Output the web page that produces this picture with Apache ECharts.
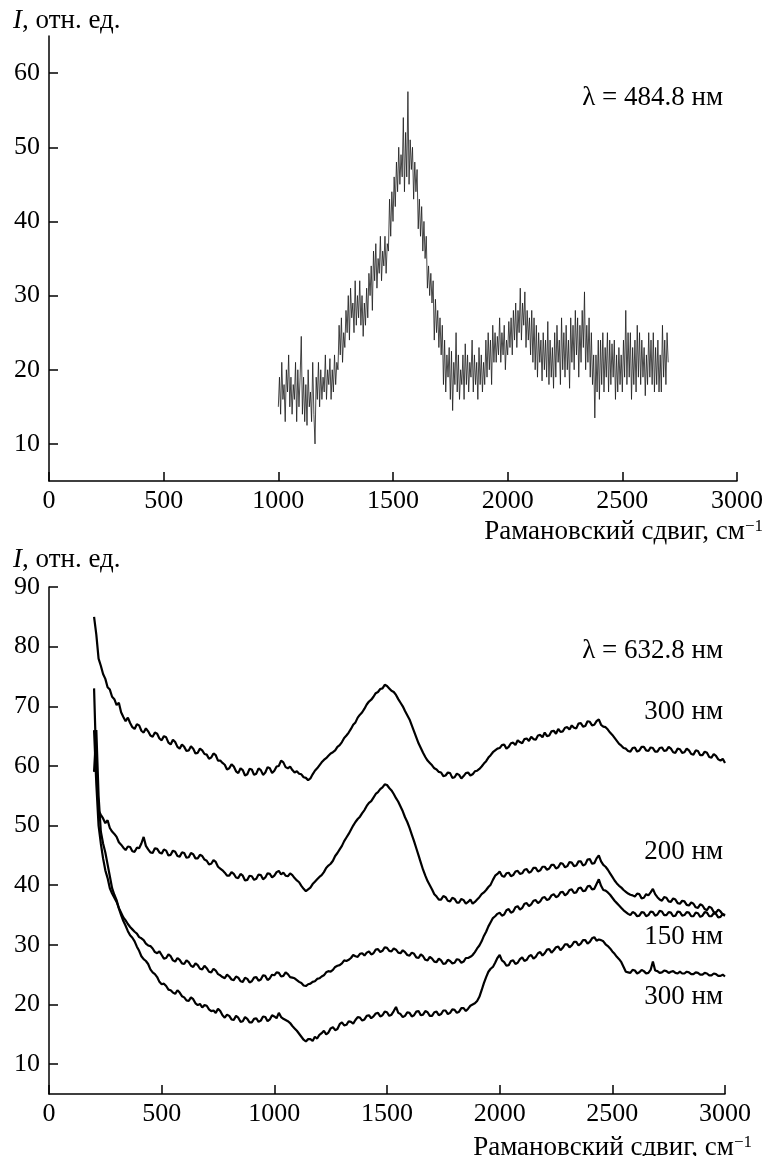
<!DOCTYPE html>
<html>
<head>
<meta charset="utf-8">
<script src="https://cdn.jsdelivr.net/npm/echarts@6/dist/echarts.min.js"></script>
<style>
html,body{margin:0;padding:0;background:#fff;}
#c{width:766px;height:1156px;}
</style>
</head>
<body>
<div id="c"></div>
<script>
// ---------- DATA ----------
// Top panel (λ = 484.8 нм): sampled every 5 cm^-1 from 1000 to 2700
const topStart = 1000;
const topStep = 5;
const topValues = [
  15,19,14,21,16,18,13,20,17,22, 15,19,14,18,16,21,13,20,15,19,
  24.5,14,19,13,18,12.5,20,15,17,13, 21,14,10,19,16,21,15,20,16,19,
  17,22,16,20,18,21.5,16,20,17,22, 18,21,20,26,22,27,21,25,23,28,
  25,30,24,31,27,29,25,32,26,30, 27,32,26,30,24.5,29,26,31,27,33,
  30,34,28,36,32,37,31,35,33,38, 32,36,34,38,33,37,36,43,38,44,
  40,46,42,48,44,50,45,49,46,54, 44,52,46,57.5,45,51,47,50,43,48,
  44,47,39,43,38,42,36,40,35,38, 31,34,30,33,29,32,24,29.5,25,28,
  23,27,22,26,18,24,17,22,19,23, 16,22.5,14.5,21,18,25,17,22,16,20,
  18,22,16,23.5,18,22,17,21,19,24, 17,22,18,21,16,23,18,22,17,21,
  18,24,19,25,20,24,18,26,21,25, 21,24.5,22,27,21,25,22,26,20,24,
  22,26.5,23,27,22,28,24,29,23,28, 25,31,24,29,26,30.5,23,28,24,27,
  22,28,21,27,20,26,19,25,21,24, 18.5,25,20,24,19,26.5,18,24,19,23,
  17.5,25,19,26,21,24,18,27,20,25, 19,26,20,24,17.5,27,21,26,20,28,
  22,27,19,26,21,28,23,30.5,20,26, 21,27,19,25,18,22,13.5,22,17,24,
  16,24,18,25,17,23,19,25,17,24, 18,23.5,19,24,16,22,17,23,18,22,
  17,24,19,28,18,25,19,25,16,23, 18,24,17,26,19,25,18,24,19,23,
  16.5,22,18,25,19,24,18,25,17,23, 18,24,17,22,17,26,19,24,18,25,
  21
];

// Bottom panel (λ = 632.8 нм): sampled every 10 cm^-1 from 200 to 3000
const bottomStart = 200;
const bottomStep = 10;

const curve300top = [
  85,82,78,76.8,75.4,74.6,73.2,72.8,71.6,71.2,
  70.2,70.6,69,68.2,67.5,68.1,67.2,66.5,66.2,67.0,
  66.8,65.9,65.6,66.3,65.8,65.1,64.9,65.6,65.4,64.6,
  64.3,65.0,64.8,63.9,63.6,64.4,64,63.2,62.9,63.6,
  63.2,62.5,62.6,63.3,62.9,62.1,62.2,62.9,62.6,62.0,
  61.9,61.2,61.4,62.1,61.8,60.9,60.9,60.5,60.2,59.4,
  59.6,60.3,59.9,59.1,58.8,59.6,59.3,58.4,58.6,59.5,
  59.4,58.5,58.7,59.6,59.3,58.5,58.9,59.8,59.6,58.8,
  59.2,59.9,60,60.9,60.6,59.8,59.6,59.9,59.3,58.9,
  59.1,58.7,58.6,58.1,58,57.6,57.9,58.6,59.2,59.6,
  60.1,60.6,61,61.3,61.7,62.1,62.3,62.6,63.2,63.5,
  64,64.7,65.1,65.6,66.2,66.9,67.3,68.1,68.6,69.0,
  69.6,70.3,70.8,71.1,71.6,72.2,72.4,72.9,73,73.6,
  73.4,73.0,72.6,72.4,71.9,71.2,70.6,70.0,69.2,68.5,
  67.8,66.8,65.8,64.8,63.8,63.0,62.2,61.5,60.9,60.5,
  60.1,59.6,59.4,59.0,58.9,58.3,58.4,58.9,58.8,58.0,
  58.1,58.7,58.5,57.9,58.3,58.8,58.9,58.4,58.6,59.1,
  59.2,59.5,59.9,60.4,60.8,61.4,61.8,62.3,62.6,62.9,
  63,63.5,63.6,62.9,63.2,63.8,63.9,63.5,64.3,64.0,
  63.8,64.5,64.6,64.2,64.9,64.5,64.4,65.1,65.2,64.8,
  65.6,65.0,65.1,65.8,65.9,65.4,66.2,65.7,65.8,66.4,
  66.5,66.1,66.8,66.4,66.3,67.1,67.2,66.6,66.7,67.5,
  67.4,66.8,66.9,67.5,67.8,66.9,66.6,66.5,66.1,65.6,
  65.2,64.7,64.2,63.7,63.4,63.0,62.9,62.5,62.4,63.0,
  63.1,62.4,62.6,63.2,63.2,62.6,62.5,63.1,63,62.4,
  62.4,63.0,63.1,62.5,62.6,63.2,62.9,62.3,62.2,62.9,
  62.8,62.2,62.3,62.9,62.6,62.0,61.9,62.6,62.5,61.8,
  61.8,62.4,62.2,61.5,61.4,62.0,61.7,61.1,60.9,61.2,
  60.5
];
const curve200 = [
  73,60,52.5,51.8,51.2,50.4,50.9,49.6,49,48.6,
  48.1,47.2,46.8,46.3,45.9,46.5,46.4,45.7,45.6,46.3,
  46.2,47.0,48.1,46.6,46,45.5,45.4,46.2,46.1,45.5,
  45.3,46.0,45.8,45.0,45.1,45.8,45.6,44.9,44.8,45.5,
  45.4,44.6,44.7,45.4,45.2,44.5,44.5,45.1,44.9,44.3,
  44.1,43.5,43.6,44.2,43.9,43.1,42.8,42.5,42.1,41.6,
  41.6,42.2,41.9,41.3,41.2,41.9,41.6,40.8,40.9,41.6,
  41.5,40.9,41.1,41.8,41.7,41.0,41.3,42.0,41.9,41.3,
  41.6,42.2,42.4,41.8,42.1,41.6,41.5,42.0,41.7,41.2,
  40.8,40.5,39.9,39.4,39,39.3,39.6,40.2,40.6,41.0,
  41.4,41.7,42.2,42.9,43.3,43.6,44.1,44.9,45.4,46.0,
  46.6,47.4,48,48.6,49.3,50.0,50.6,51.1,51.5,52.1,
  52.6,53.3,53.8,54.1,54.7,55.3,55.6,56.1,56.4,56.9,
  56.8,56.3,55.9,55.3,54.6,54.0,53.2,52.4,51.4,50.6,
  49.6,48.5,47.4,46.2,45,43.8,42.6,41.6,40.7,40.0,
  39.3,38.5,38.1,37.6,37.6,38.2,38,37.4,37.3,37.9,
  37.7,37.1,37.1,37.7,37.5,36.9,37.2,37.6,36.9,37.2,
  37.6,38.0,38.5,38.8,39.2,39.7,40.1,40.9,41.6,41.9,
  42.3,41.6,41.4,42.0,42.1,41.5,41.7,42.3,42.4,41.9,
  42,42.6,42.7,42.1,42.3,42.9,42.9,42.3,42.5,43.1,
  43.1,42.6,42.8,43.4,43.4,42.8,43,43.7,43.6,43.0,
  43.2,43.9,43.8,43.2,43.3,44.0,44,43.3,43.5,44.3,
  44.4,43.6,43.7,44.5,45,44.0,43.4,43.1,42.6,42.0,
  41.4,40.8,40.3,39.9,39.6,39.2,38.9,38.6,38.4,38.3,
  38.1,38.6,38.5,37.8,37.9,38.5,38.3,38.8,39.4,38.5,
  38,37.6,37.4,38.0,37.9,37.3,37.2,37.8,37.6,37.0,
  36.9,37.4,37.3,36.7,36.6,37.1,36.9,36.3,36.2,36.8,
  36.6,36.0,35.8,36.4,36.2,35.5,35.4,35.9,35.6,35.1,
  34.9
];
const curve150 = [
  66,57,50,47,44.5,42.5,41.2,39.5,38.6,37.9,
  37.2,36.2,35.4,34.6,34.1,33.5,33,32.6,32.2,31.9,
  31.3,31.1,30.8,30.2,29.9,29.8,29.4,28.8,28.6,28.9,
  28.3,27.7,27.8,28.4,28.1,27.4,27.2,27.8,27.5,26.9,
  26.8,27.4,27.1,26.5,26.3,26.9,26.6,26.0,25.9,26.5,
  26.1,25.5,25.4,26.0,25.7,25.1,24.9,24.6,24.4,25.0,
  24.7,24.2,24.1,24.7,24.5,23.9,23.8,24.5,24.3,23.7,
  23.9,24.5,24.6,24.0,24.2,24.9,24.8,24.1,24.4,25.0,
  24.9,25.4,25.3,24.7,24.8,25.4,25.1,24.6,24.5,24.4,
  24.1,23.8,23.6,23.2,23.1,23.4,23.5,23.8,23.9,24.3,
  24.4,24.7,24.9,25.4,25.6,25.5,25.8,26.3,26.5,26.6,
  26.9,27.4,27.3,27.5,27.8,28.3,28.1,28.0,28.5,28.6,
  28.2,28.7,28.9,28.4,28.6,29.2,29.3,28.8,29,29.6,
  29.5,29.0,28.9,29.4,29.2,28.7,28.6,29.1,28.8,28.3,
  28.2,28.7,28.5,27.9,27.8,28.4,28.1,27.5,27.4,28.0,
  27.7,27.2,27.1,27.7,27.4,26.8,26.9,27.5,27.3,26.9,
  27,27.6,27.5,27.0,27.2,27.8,27.8,28.0,28.3,28.8,
  29.4,29.9,30.6,31.5,32.2,33.1,33.8,34.5,34.8,35.2,
  35.4,34.9,35.1,35.8,36,35.4,35.6,36.3,36.5,35.9,
  36.2,36.9,37,36.5,36.8,37.4,37.5,37.0,37.3,37.9,
  38,37.5,37.7,38.3,38.5,38.0,38.2,38.8,38.9,38.3,
  38.6,39.2,39.3,38.7,38.8,39.5,39.6,39.0,39.1,39.8,
  39.9,39.3,39.4,40.2,41,39.9,39.2,39.1,38.8,38.4,
  37.9,37.4,37,36.6,36.2,35.8,35.5,35.2,35,35.5,
  35.3,34.8,34.9,35.5,35.4,34.8,35,35.6,35.5,34.9,
  35.1,35.7,35.6,35.0,35,35.5,35.4,34.8,34.9,35.6,
  35.5,34.9,35,35.5,35.4,34.8,34.8,35.4,35.3,34.7,
  34.9,35.5,35.4,34.8,34.8,35.3,35.2,34.6,34.7,35.2,
  35
];
const curve300bottom = [
  59,66,55,49,47,45.5,43.5,41.5,39.5,38.4,
  37.5,36.1,35,34.0,33.2,32.3,31.6,31.2,30.6,29.7,
  29,28.1,27.6,27.3,26.8,25.9,25.4,25.1,24.6,23.8,
  23.4,23.5,23.1,22.5,22.4,22.0,21.8,22.4,22,21.4,
  21.2,20.7,20.6,21.2,20.9,20.2,19.9,20.1,19.5,19.9,
  19.8,19.2,18.9,19.0,18.6,19.3,18.9,18.2,17.8,18.3,
  18.1,17.5,17.4,18.1,17.8,17.1,17.2,17.9,17.6,17.0,
  17,17.6,17.7,17.1,17.3,18.0,17.9,17.2,17.5,18.2,
  18,17.7,18.6,17.9,17.6,17.4,17.2,16.9,16.4,16.0,
  15.6,15.1,14.6,14.1,13.8,14.2,14.2,13.9,14.6,14.3,
  14.9,15.2,15.6,15.0,15.3,16.0,16.2,15.7,15.9,16.7,
  17,16.5,16.6,17.2,17.1,16.8,17.4,17.9,17.8,17.3,
  17.5,18.1,18.2,17.7,18,18.5,18.6,18.0,18.2,18.8,
  18.7,18.1,18.3,18.9,19.6,18.6,18.4,17.9,18.1,18.7,
  18.6,18.0,18.2,18.8,18.9,18.2,18.3,18.9,18.7,18.1,
  18.1,18.7,18.8,18.2,18.4,19.0,19,18.4,18.6,19.2,
  19.1,18.6,18.8,19.4,19.4,18.9,19.3,19.8,20,20.2,
  20.6,21.3,22.4,23.6,24.6,25.5,26,26.3,27,27.8,
  28.3,27.4,27.1,26.5,26.6,27.3,27.4,26.8,27,27.6,
  27.9,27.3,27.5,28.1,28.3,27.7,28,28.6,28.8,28.2,
  28.6,29.2,29.3,28.7,29.1,29.6,29.7,29.1,29.5,30.1,
  30.1,29.6,29.9,30.5,30.5,29.9,30.2,30.8,30.8,30.2,
  30.5,31.1,31.3,30.7,30.9,30.8,30.6,30.1,29.8,29.4,
  28.9,28.5,28,27.6,27.1,26.3,25.5,25.4,25.3,25.8,
  25.7,25.2,25.4,25.8,25.6,25.2,25.3,25.8,27.2,25.7,
  25.6,25.3,25.4,25.7,25.6,25.3,25.5,25.6,25.3,25.2,
  25.5,25.2,25.2,25.5,25.4,25.1,25.1,25.4,25.3,25.0,
  25,25.3,25.2,24.9,24.9,25.2,25.1,24.8,24.8,25.0,
  24.7
];

const yTicksTop = [10,20,30,40,50,60];
const yTicksBottom = [10,20,30,40,50,60,70,80,90];

const yLabelText = 'отн. ед.';
const xTitleMain = 'Рамановский сдвиг, см';
const xTitleSup = '−1';
const lambdaTop = 'λ = 484.8 нм';
const lambdaBottom = 'λ = 632.8 нм';
const curveLabels = ['300 нм','200 нм','150 нм','300 нм'];

// ---------- BUILD ----------
const topSeriesData = topValues.map((y, i) => [topStart + i * topStep, y]);
const bottomPair = ys => ys.map((y, i) => [bottomStart + i * bottomStep, y]);

const FONT = '"Liberation Serif","Times New Roman",serif';
const FS = 26;   // tick labels
const FT = 27;   // titles / annotations

function xAxisCfg(gi) {
  return {
    type: 'value', gridIndex: gi, min: 0, max: 3000, interval: 500,
    axisLine: { show: true, onZero: false, lineStyle: { color: '#000', width: 1.5 } },
    axisTick: { show: true, inside: true, length: 9, lineStyle: { color: '#000', width: 1.5 } },
    axisLabel: { color: '#000', fontSize: FS, fontFamily: FONT, margin: 7,
                 formatter: v => String(v) },
    splitLine: { show: false }
  };
}
function yAxisCfg(gi, max, ticks) {
  return {
    type: 'value', gridIndex: gi, min: 5, max: max,
    axisLine: { show: true, onZero: false, lineStyle: { color: '#000', width: 1.5 } },
    axisTick: { show: true, inside: true, length: 9, customValues: ticks, lineStyle: { color: '#000', width: 1.5 } },
    axisLabel: { color: '#000', fontSize: FS, fontFamily: FONT, margin: 9, customValues: ticks,
                 formatter: v => String(v) },
    splitLine: { show: false }
  };
}

function txt(x, y, text, align, extra) {
  return {
    type: 'text', x: x, y: y, silent: true,
    style: Object.assign({
      text: text, fill: '#000', fontSize: FT, fontFamily: FONT,
      align: align, verticalAlign: 'middle'
    }, extra || {})
  };
}
const yTitleRich = {
  i: { fontStyle: 'italic', fontSize: FT, fontFamily: FONT, fill: '#000' },
  n: { fontSize: FT, fontFamily: FONT, fill: '#000' }
};
const xTitleRich = {
  a: { fontSize: FT, fontFamily: FONT, fill: '#000' },
  s: { fontSize: 17, fontFamily: FONT, fill: '#000', verticalAlign: 'top' }
};

const lineStyleBottom = { color: '#000', width: 2.2 };

const option = {
  animation: false,
  backgroundColor: '#fff',
  grid: [
    { left: 49, right: 29, top: 36, bottom: 675 },
    { left: 49, right: 41, top: 587, bottom: 62 }
  ],
  xAxis: [xAxisCfg(0), xAxisCfg(1)],
  yAxis: [yAxisCfg(0, 65, yTicksTop), yAxisCfg(1, 90, yTicksBottom)],
  series: [
    { type: 'line', xAxisIndex: 0, yAxisIndex: 0, data: topSeriesData,
      showSymbol: false, symbol: 'none', lineStyle: { color: '#1a1a1a', width: 0.8 } },
    { type: 'line', xAxisIndex: 1, yAxisIndex: 1, data: bottomPair(curve300top),
      showSymbol: false, symbol: 'none', lineStyle: lineStyleBottom },
    { type: 'line', xAxisIndex: 1, yAxisIndex: 1, data: bottomPair(curve200),
      showSymbol: false, symbol: 'none', lineStyle: lineStyleBottom },
    { type: 'line', xAxisIndex: 1, yAxisIndex: 1, data: bottomPair(curve150),
      showSymbol: false, symbol: 'none', lineStyle: lineStyleBottom },
    { type: 'line', xAxisIndex: 1, yAxisIndex: 1, data: bottomPair(curve300bottom),
      showSymbol: false, symbol: 'none', lineStyle: lineStyleBottom }
  ],
  graphic: [
    txt(13, 21, '{i|I}{n|, ' + yLabelText + '}', 'left', { rich: yTitleRich }),
    txt(13, 560, '{i|I}{n|, ' + yLabelText + '}', 'left', { rich: yTitleRich }),
    txt(763, 532, '{a|' + xTitleMain + '}{s|' + xTitleSup + '}', 'right', { rich: xTitleRich }),
    txt(752, 1148, '{a|' + xTitleMain + '}{s|' + xTitleSup + '}', 'right', { rich: xTitleRich }),
    txt(723, 98, lambdaTop, 'right'),
    txt(723, 651, lambdaBottom, 'right'),
    txt(723, 712, curveLabels[0], 'right'),
    txt(723, 852, curveLabels[1], 'right'),
    txt(723, 937, curveLabels[2], 'right'),
    txt(723, 997, curveLabels[3], 'right')
  ]
};

const chart = echarts.init(document.getElementById('c'), null, { renderer: 'canvas', width: 766, height: 1156 });
chart.setOption(option);
</script>
</body>
</html>
